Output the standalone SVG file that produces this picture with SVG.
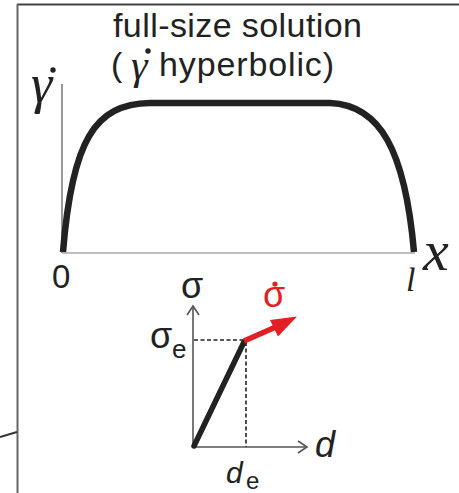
<svg xmlns="http://www.w3.org/2000/svg" width="459" height="493" viewBox="0 0 459 493">
<style>
.sans{font-family:"Liberation Sans",Arial,sans-serif;fill:#222}
.serif{font-family:"Liberation Serif","Times New Roman",serif;fill:#222}
.ax{stroke:#555;stroke-width:1.6;fill:none}
.dash{stroke:#222;stroke-width:1.6;stroke-dasharray:4 2.5;fill:none}
</style>
<g id="frame">
<line x1="17" y1="4.5" x2="459" y2="4.5" stroke="#444" stroke-width="2"/>
<line x1="17.5" y1="4" x2="17.5" y2="493" stroke="#666" stroke-width="2"/>
<line x1="0" y1="437" x2="17" y2="432" stroke="#333" stroke-width="2"/>
</g>
<g id="title">
<text class="sans" x="113" y="37" font-size="34" textLength="249">full-size solution</text>
<text class="sans" x="111" y="76" font-size="34">(</text>
<text class="serif" x="131" y="79" font-size="42" font-style="italic">γ</text>
<circle cx="148" cy="51" r="2.7" fill="#222"/>
<text class="sans" x="159" y="76" font-size="34" textLength="175">hyperbolic)</text>
</g>
<g id="plot">
<line x1="62" y1="84" x2="62" y2="253" stroke="#555" stroke-width="1.2"/>
<line x1="62" y1="253" x2="415" y2="253" stroke="#aaa" stroke-width="1.3"/>
<path d="M63 252 C72 140 95 104 150 103 L330 103 C380 105 405 150 414 252" fill="none" stroke="#222" stroke-width="6.5"/>
<text class="serif" x="31" y="102" font-size="54" font-style="italic">γ</text>
<circle cx="53" cy="70" r="2.7" fill="#222"/>
<text class="sans" x="52" y="288" font-size="33">0</text>
<text class="serif" x="406" y="291" font-size="34" font-style="italic">l</text>
<text class="serif" x="423" y="270" font-size="58" font-style="italic">x</text>
</g>
<g id="inset">
<g id="connectors">
<line class="ax" x1="193" y1="447" x2="193" y2="306"/>
<polyline class="ax" points="187,315 193,306 199,315"/>
<line class="ax" x1="193" y1="447" x2="307" y2="447"/>
<polyline class="ax" points="298,441 307,447 298,453"/>
<line class="dash" x1="194" y1="340" x2="245" y2="340"/>
<line class="dash" x1="246" y1="342" x2="246" y2="447"/>
<line x1="194" y1="446" x2="244" y2="342" stroke="#222" stroke-width="5.5" stroke-linecap="round"/>
<line x1="244" y1="341" x2="278" y2="326" stroke="#e31e24" stroke-width="5.5"/>
<polygon points="297,316.5 270,320 278,336.5" fill="#e31e24"/>
</g>
<text class="sans" x="181" y="298" font-size="36">σ</text>
<text class="sans" x="150" y="348" font-size="36">σ</text>
<text class="sans" x="172" y="358" font-size="26">e</text>
<text class="sans" x="315" y="457" font-size="36" font-style="italic">d</text>
<text class="sans" x="226" y="483" font-size="30" font-style="italic">d</text>
<text class="sans" x="246" y="489" font-size="24">e</text>
<text class="sans" x="263" y="307" font-size="36" style="fill:#e31e24">σ</text>
<circle cx="275" cy="284" r="2.6" fill="#e31e24"/>
</g>
</svg>
